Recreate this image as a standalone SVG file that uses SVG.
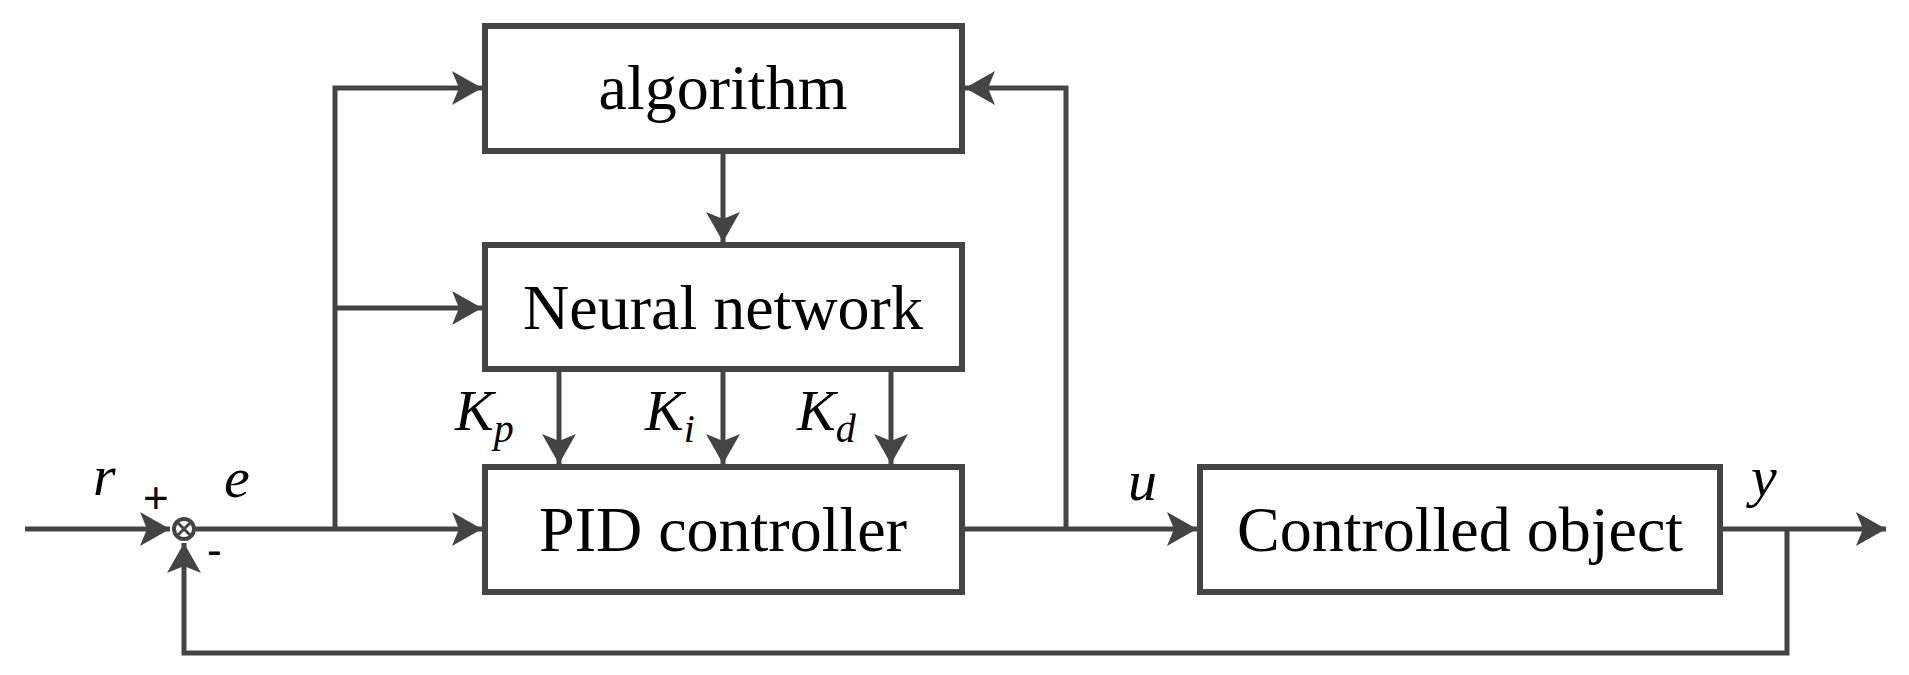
<svg xmlns="http://www.w3.org/2000/svg" width="1909" height="675" viewBox="0 0 1909 675">
<style>
.box{fill:#fff;stroke:#444;stroke-width:6}
.ln{fill:none;stroke:#444;stroke-width:5}
.t{font-family:"Liberation Serif",serif;font-size:64px;fill:#000;text-anchor:middle}
.i{font-family:"Liberation Serif",serif;font-style:italic;font-size:58px;fill:#000}
.s{font-family:"Liberation Sans",sans-serif;font-size:44px;fill:#000}
</style>
<defs>
<marker id="a" markerUnits="userSpaceOnUse" markerWidth="32" markerHeight="34" refX="30" refY="17" orient="auto">
<path d="M0,0 L30,17 L0,34 L7,17 Z" fill="#444"/>
</marker>
</defs>
<g id="connectors">
<path class="ln" d="M25,529 H170" marker-end="url(#a)"/>
<path class="ln" d="M196,529 H482" marker-end="url(#a)"/>
<path class="ln" d="M335,529 V88 H482" marker-end="url(#a)"/>
<path class="ln" d="M335,308 H482" marker-end="url(#a)"/>
<path class="ln" d="M723,151 V242" marker-end="url(#a)"/>
<path class="ln" d="M559,369 V464" marker-end="url(#a)"/>
<path class="ln" d="M723,369 V464" marker-end="url(#a)"/>
<path class="ln" d="M891,369 V464" marker-end="url(#a)"/>
<path class="ln" d="M962,529 H1197" marker-end="url(#a)"/>
<path class="ln" d="M1066,529 V88 H965" marker-end="url(#a)"/>
<path class="ln" d="M1720,529 H1886" marker-end="url(#a)"/>
<path class="ln" d="M1787,529 V653 H184 V543" marker-end="url(#a)"/>
</g>
<g id="sum">
<circle cx="184" cy="529" r="10" fill="#fff" stroke="#444" stroke-width="4"/>
<path d="M177,522 L191,536 M191,522 L177,536" stroke="#444" stroke-width="3"/>
</g>
<g id="algorithm"><rect class="box" x="485" y="26" width="477" height="125"/><text class="t" x="723" y="109">algorithm</text></g>
<g id="neural"><rect class="box" x="485" y="245" width="477" height="124"/><text class="t" x="723" y="329">Neural network</text></g>
<g id="pid"><rect class="box" x="485" y="467" width="477" height="125"/><text class="t" x="723" y="551">PID controller</text></g>
<g id="plant"><rect class="box" x="1200" y="467" width="520" height="125"/><text class="t" x="1460" y="551">Controlled object</text></g>
<g id="labels">
<text class="i" x="455" y="430">K<tspan font-size="40" dy="12">p</tspan></text>
<text class="i" x="645" y="430">K<tspan font-size="40" dy="12">i</tspan></text>
<text class="i" x="797" y="430">K<tspan font-size="40" dy="12">d</tspan></text>
<text class="i" x="93" y="495">r</text>
<text class="s" x="143" y="513">+</text>
<text class="i" x="224" y="497">e</text>
<text class="s" x="207" y="565">-</text>
<text class="i" x="1128" y="500">u</text>
<text class="i" x="1751" y="496">y</text>
</g>
</svg>
